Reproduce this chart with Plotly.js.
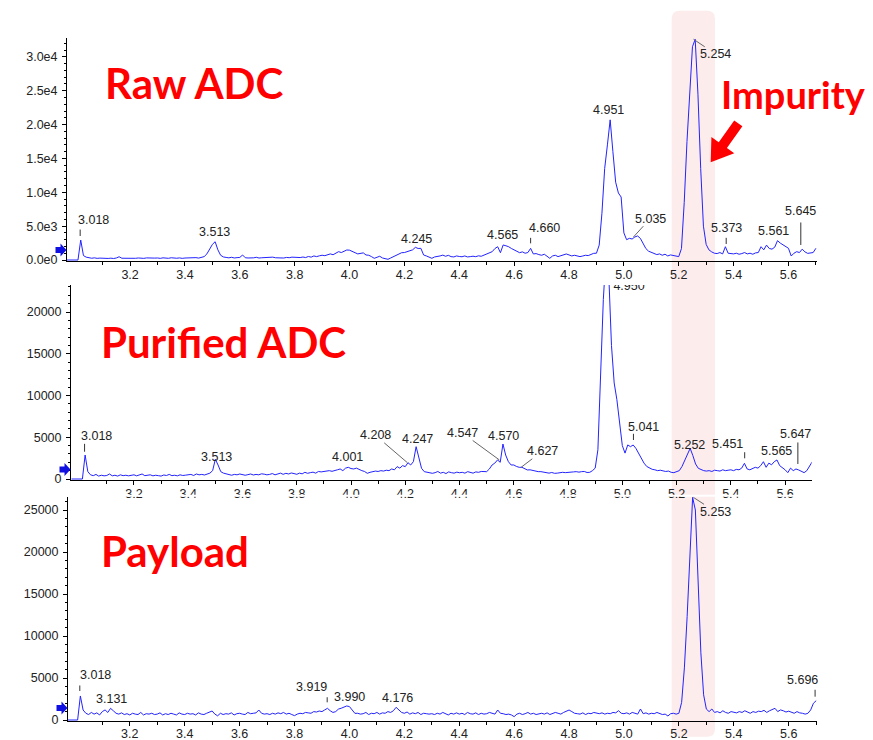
<!DOCTYPE html>
<html>
<head>
<meta charset="utf-8">
<script src="https://cdn.plot.ly/plotly-3.0.1.min.js"></script>
<style>html,body{margin:0;padding:0;background:#fff;}</style>
</head>
<body>
<div id="chart" style="width:873px;height:740px;"></div>
<script>
// ---------------- DATA ----------------
// retention time sampling (minutes)
const startTime = 2.97;
const timeStep = 0.01;

// Raw ADC trace (counts), 2.97 .. 5.70 min
const rawADC = [
  0,0,0,
  0,0,2950,650,420,300,260,320,240,280,
  250,300,230,270,220,300,480,260,240,300,
  230,280,250,300,260,240,310,270,230,280,
  300,240,320,260,250,330,280,260,310,240,
  290,330,260,300,350,280,420,500,900,1600,
  2300,2700,1500,700,450,380,320,400,300,350,
  380,740,330,300,260,320,400,290,330,360,
  300,380,420,330,300,350,290,380,340,420,
  380,300,360,440,360,520,420,600,500,620,
  700,640,800,900,780,1000,1230,1100,1300,1480,
  1450,1200,1080,900,950,1050,740,700,500,250,
  400,550,300,180,100,300,500,700,900,1080,
  1100,1250,1380,1500,1870,1700,1720,740,600,400,
  250,450,500,600,720,550,690,500,450,600,
  520,480,600,450,500,560,490,620,550,700,
  820,1000,1230,1700,1960,1080,2220,2100,1960,1700,
  1480,1300,1080,1200,1000,1100,1720,890,950,800,
  700,850,500,250,600,700,500,650,800,890,
  750,600,700,650,500,590,700,650,820,985,
  1000,2200,6900,13500,17000,20700,16000,11500,9900,9300,
  4000,3000,3200,3100,3400,3550,3200,2500,1700,1300,
  1100,1000,800,900,700,850,600,750,700,600,
  500,1700,8500,17500,25500,31500,32600,24500,13500,5000,
  2300,1500,1200,1000,950,1100,900,1960,1000,900,
  900,1000,850,950,1100,900,1000,850,1050,1100,
  1960,1500,2200,1700,1600,1900,2860,2500,2200,2000,
  1730,590,1000,1230,1100,1600,1200,980,1000,1100,
  1730
];

// Purified ADC trace (counts), 2.97 .. 5.70 min
const purifiedADC = [
  0,0,0,
  0,0,2870,880,500,400,550,350,450,380,
  420,600,380,450,350,500,400,450,380,420,
  500,380,450,600,400,420,500,380,450,400,
  350,480,420,550,400,450,380,500,420,460,
  480,550,420,600,500,550,480,600,700,1000,
  2360,1680,880,700,600,500,450,550,500,600,
  500,450,520,600,480,550,500,620,580,500,
  550,650,500,600,700,560,680,600,720,650,
  560,700,620,800,680,760,820,700,900,850,
  880,950,1000,920,1050,1100,1200,1000,1300,1400,
  1250,1200,1300,1100,1000,900,680,800,880,950,
  900,1000,950,1050,1000,1200,1100,1480,1300,1600,
  1480,1950,1680,2080,3870,2680,1280,880,800,680,
  680,760,900,700,800,650,850,760,700,820,
  750,800,700,880,760,700,850,800,900,880,
  880,1200,1680,1900,2280,2000,4190,2870,2080,1680,
  1680,1500,1400,1400,1200,1080,1100,1000,950,880,
  880,800,750,700,780,680,700,760,800,760,
  760,800,850,880,820,880,900,780,800,1000,
  1300,3500,12000,21500,27000,24500,16000,11500,9500,6800,
  4000,3100,4080,3870,4070,3670,3080,2500,1900,1500,
  1300,1160,1100,1000,1050,1000,900,950,800,760,
  900,1000,1500,2280,3000,3670,2800,1800,1280,1100,
  1000,950,1000,900,1050,1000,950,1100,1000,1050,
  1100,1000,1150,1100,1300,1880,1200,1100,1250,1400,
  1300,1600,2070,1400,1900,1700,2070,2280,1600,1400,
  1100,760,1300,1000,1200,1080,900,760,1000,1500,
  2070
];

// Payload trace (counts), 2.97 .. 5.70 min
const payload = [
  0,0,0,
  0,0,2860,1190,800,650,900,700,850,600,
  1000,1200,900,1390,1100,800,700,850,650,750,
  600,800,700,650,900,600,750,700,800,650,
  700,850,600,750,650,800,700,600,850,700,
  650,800,700,750,600,850,700,650,800,900,
  1070,700,500,800,650,750,700,850,600,750,
  800,700,650,900,750,800,850,1190,800,700,
  750,650,800,700,850,750,900,700,800,650,
  520,700,800,750,900,850,800,1000,950,1070,
  1000,1200,1390,1100,900,1000,1300,1400,1500,1670,
  1600,1200,790,800,700,750,900,650,800,750,
  900,700,850,800,1000,900,1100,1510,1200,900,
  800,950,700,850,750,900,650,800,750,700,
  750,650,800,700,900,750,600,800,700,850,
  700,800,650,900,750,700,850,650,800,700,
  750,900,800,700,1190,800,750,650,700,600,
  400,700,800,650,750,900,700,800,650,750,
  800,700,850,650,750,900,800,700,900,1000,
  1190,1000,800,750,700,850,650,800,750,900,
  800,750,850,700,800,750,900,850,1110,800,
  750,850,700,900,800,700,1310,750,850,700,
  800,750,900,800,650,700,480,750,800,700,
  800,2100,6200,12300,19400,26500,25000,17000,8000,3000,
  1300,1000,1310,900,1000,850,1100,900,800,1000,
  950,850,1000,900,1100,950,800,1000,900,1050,
  1000,1150,900,1100,1200,1390,1000,1200,1100,950,
  1050,900,800,1000,850,800,700,800,1200,1990,
  2300
];

// labelled peaks (retention times, min)
const rawPeaks = [3.018, 3.513, 4.245, 4.565, 4.660, 4.951, 5.035, 5.254, 5.373, 5.561, 5.645];
const purifiedPeaks = [3.018, 3.513, 4.001, 4.208, 4.247, 4.547, 4.570, 4.627, 5.041, 5.252, 5.451, 5.565, 5.647];
const purifiedOffscalePeak = [4.950];
const payloadPeaks = [3.018, 3.131, 3.919, 3.990, 4.176, 5.253, 5.696];

// axis ticks
const xTicks = [3.2, 3.4, 3.6, 3.8, 4.0, 4.2, 4.4, 4.6, 4.8, 5.0, 5.2, 5.4, 5.6];
const rawYTicks = [0, 5000, 10000, 15000, 20000, 25000, 30000];
const rawYTickText = ['0.0e0', '5.0e3', '1.0e4', '1.5e4', '2.0e4', '2.5e4', '3.0e4'];
const purifiedYTicks = [0, 5000, 10000, 15000, 20000];
const payloadYTicks = [0, 5000, 10000, 15000, 20000, 25000];

const panelTitles = ['Raw ADC', 'Purified ADC', 'Payload'];
const calloutText = ['Impurity'];

// ---------------- STYLE / LAYOUT ----------------
const W = 873, H = 740;
const px2x = px => px / W;
const py2y = py => 1 - py / H;

// label placement per peak: [dx, dy(up), kind, standoff, length]
const rawLabelStyle = [
  [13.7, 20, 'tick', 4, 7], [-1, 9.7, 'none'], [0, 8.6, 'none'], [-1.6, 10, 'none'],
  [13.8, 20, 'tick', 5, 6], [-1.5, 9.5, 'none'], [16.7, 18.3, 'leader'], [22.4, -15, 'leader'],
  [0, 18.4, 'tick', 2.7, 6.7], [-3.8, 9.4, 'none'], [-0.8, 38.4, 'tick', 4.2, 23]
];
const purifiedLabelStyle = [
  [11.7, 18.8, 'tick', 3.3, 8.4], [-2.2, 8, 'none'], [-3.3, 10, 'none'], [-32, 27.4, 'leader'],
  [-1, 8, 'none'], [-37, 27, 'leader'], [-2, 7.8, 'none'], [21, 16, 'leader'],
  [10.4, 18.3, 'tick', 5, 6.7], [-1, 3, 'none'], [-17.4, 19.5, 'tick', 5, 6.6],
  [0.8, 8.7, 'none'], [-2.2, 35, 'tick', 5, 22]
];
const payloadLabelStyle = [
  [15.2, 21, 'tick', 5, 6], [0.2, 9.5, 'none'], [-15.9, 21.6, 'tick', 6, 5.6],
  [3.1, 9.3, 'none'], [0, 9.8, 'none'], [22.1, -14.4, 'leader'], [-12.6, 20.7, 'tick', 4, 7.4]
];

const panelGeom = [
  {xl: 67, xr: 817, yt: 38, yb: 261, xrange: [2.97, 5.704], yrange: [-148, 32790], xstand: -2},
  {xl: 71, xr: 811.7, yt: 285, yb: 480, xrange: [2.968, 5.698], yrange: [-120, 23234], xstand: -2},
  {xl: 68, xr: 817, yt: 497, yb: 721, xrange: [2.975, 5.703], yrange: [-119, 26548], xstand: -3}
];

const series = [rawADC, purifiedADC, payload];
const peakSets = [rawPeaks, purifiedPeaks, payloadPeaks];
const labelStyles = [rawLabelStyle, purifiedLabelStyle, payloadLabelStyle];
const yTickSets = [[rawYTicks, rawYTickText], [purifiedYTicks, purifiedYTicks.map(String)], [payloadYTicks, payloadYTicks.map(String)]];

const traceBlue = 'rgb(35,35,255)';
const labelFont = {family: 'Liberation Sans, Arial, sans-serif', size: 12.5, color: '#222'};
const tickFont = {family: 'Liberation Sans, Arial, sans-serif', size: 12.5, color: '#222'};

function peakValue(values, t) {
  let best = -Infinity;
  values.forEach((v, i) => {
    const ti = startTime + i * timeStep;
    if (Math.abs(ti - t) <= 0.0125) best = Math.max(best, v);
  });
  return best;
}

const traces = [];
const annotations = [];
const shapes = [];
const layout = {
  width: W, height: H,
  margin: {l: 0, r: 0, t: 0, b: 0},
  paper_bgcolor: '#ffffff',
  plot_bgcolor: 'rgba(0,0,0,0)',
  showlegend: false,
  font: tickFont
};

series.forEach((values, k) => {
  const g = panelGeom[k];
  const xa = k === 0 ? 'x' : 'x' + (k + 1);
  const ya = k === 0 ? 'y' : 'y' + (k + 1);
  const xaKey = k === 0 ? 'xaxis' : 'xaxis' + (k + 1);
  const yaKey = k === 0 ? 'yaxis' : 'yaxis' + (k + 1);

  traces.push({
    type: 'scatter', mode: 'lines', x0: startTime, dx: timeStep, y: values,
    xaxis: xa, yaxis: ya, line: {color: traceBlue, width: 1}, hoverinfo: 'x+y'
  });

  layout[xaKey] = {
    domain: [px2x(g.xl), px2x(g.xr)], range: g.xrange, anchor: ya,
    tickmode: 'array', tickvals: xTicks, ticktext: xTicks.map(v => v.toFixed(1)),
    ticks: 'outside', ticklen: 4, tickcolor: '#000', tickwidth: 1,
    minor: {tickmode: 'linear', tick0: 3.1, dtick: 0.2, ticks: 'outside', ticklen: 3, tickcolor: '#000'},
    showline: true, linecolor: '#000', linewidth: 1, showgrid: false, zeroline: false,
    tickfont: tickFont, ticklabelstandoff: g.xstand, fixedrange: true
  };
  layout[yaKey] = {
    domain: [py2y(g.yb), py2y(g.yt)], range: g.yrange, anchor: xa,
    tickmode: 'array', tickvals: yTickSets[k][0], ticktext: yTickSets[k][1],
    ticks: 'outside', ticklen: 4, tickcolor: '#000', tickwidth: 1,
    minor: {tickmode: 'linear', tick0: 0, dtick: 1000, ticks: 'outside', ticklen: 2, tickcolor: '#000'},
    showline: true, linecolor: '#000', linewidth: 1, showgrid: false, zeroline: false,
    tickfont: tickFont, ticklabelstandoff: 2, fixedrange: true
  };

  // peak labels
  peakSets[k].forEach((t, j) => {
    const st = labelStyles[k][j];
    const v = peakValue(values, t);
    const text = t.toFixed(3);
    if (st[2] === 'leader') {
      annotations.push({
        x: t, y: v, xref: xa, yref: ya, text: text, font: labelFont,
        showarrow: true, ax: st[0], ay: -st[1], arrowhead: 0, arrowwidth: 1,
        arrowcolor: '#666', standoff: 0, borderpad: 0
      });
    } else {
      annotations.push({
        x: t, y: v, xref: xa, yref: ya, text: text, font: labelFont,
        showarrow: false, xshift: st[0], yshift: st[1], xanchor: 'center', yanchor: 'middle'
      });
      if (st[2] === 'tick') {
        annotations.push({
          x: t, y: v, xref: xa, yref: ya, text: '', showarrow: true,
          ax: 0, ay: -(st[3] + st[4]), standoff: st[3], arrowhead: 0, arrowwidth: 1,
          arrowcolor: '#333', borderpad: 0
        });
      }
    }
  });

  // baseline marker arrow (blue) at left of y axis
  const my = [250, 469.5, 708][k];
  const mx = g.xl - 11.5;
  const pts = [[mx, my - 3], [mx + 5, my - 3], [mx + 5, my - 6.5], [mx + 11, my], [mx + 5, my + 6.5], [mx + 5, my + 3], [mx, my + 3]];
  shapes.push({
    type: 'path', xref: 'paper', yref: 'paper', layer: 'above',
    path: 'M' + pts.map(p => px2x(p[0]) + ',' + py2y(p[1])).join(' L') + ' Z',
    fillcolor: '#1010e0', line: {width: 0}
  });
});

// off-scale peak label of the purified trace, clipped by the plot area top
const g2 = panelGeom[1];
const yScale2 = (g2.yb - g2.yt) / (g2.yrange[1] - g2.yrange[0]);
const xScale2 = (g2.xr - g2.xl) / (g2.xrange[1] - g2.xrange[0]);
traces.push({
  type: 'scatter', mode: 'text', x: purifiedOffscalePeak.map(t => t + 20.3 / xScale2),
  y: purifiedOffscalePeak.map(() => g2.yrange[1] - 1.5 / yScale2),
  text: purifiedOffscalePeak.map(t => t.toFixed(3)), textposition: 'middle center',
  textfont: labelFont, xaxis: 'x2', yaxis: 'y2', cliponaxis: true, hoverinfo: 'skip'
});

// pink highlight band (rounded)
(function () {
  const x0 = 671.7, x1 = 715, y0 = 10.7, y1 = 736.7, r = 8;
  const P = (x, y) => px2x(x) + ',' + py2y(y);
  const path = 'M' + P(x0 + r, y0) + ' L' + P(x1 - r, y0) + ' Q' + P(x1, y0) + ' ' + P(x1, y0 + r) +
    ' L' + P(x1, y1 - r) + ' Q' + P(x1, y1) + ' ' + P(x1 - r, y1) +
    ' L' + P(x0 + r, y1) + ' Q' + P(x0, y1) + ' ' + P(x0, y1 - r) +
    ' L' + P(x0, y0 + r) + ' Q' + P(x0, y0) + ' ' + P(x0 + r, y0) + ' Z';
  shapes.push({type: 'path', xref: 'paper', yref: 'paper', layer: 'below', path: path,
    fillcolor: 'rgb(253,236,236)', line: {width: 0}});
})();

// white mask cutting the purified panel's x tick labels
shapes.push({type: 'rect', xref: 'paper', yref: 'paper', layer: 'above',
  x0: px2x(95), x1: px2x(830), y0: py2y(496.8), y1: py2y(494.8),
  fillcolor: '#ffffff', line: {width: 0}});

// red impurity arrow
(function () {
  const tail = [738.3, 123.3], tip = [710.7, 162.3];
  const dx = tip[0] - tail[0], dy = tip[1] - tail[1];
  const L = Math.hypot(dx, dy);
  const u = [dx / L, dy / L], n = [-u[1], u[0]];
  const sh = 5, hh = 14, hl = 21;
  const base = [tip[0] - u[0] * hl, tip[1] - u[1] * hl];
  const pts = [
    [tail[0] + n[0] * sh, tail[1] + n[1] * sh],
    [base[0] + n[0] * sh, base[1] + n[1] * sh],
    [base[0] + n[0] * hh, base[1] + n[1] * hh],
    tip,
    [base[0] - n[0] * hh, base[1] - n[1] * hh],
    [base[0] - n[0] * sh, base[1] - n[1] * sh],
    [tail[0] - n[0] * sh, tail[1] - n[1] * sh]
  ];
  shapes.push({type: 'path', xref: 'paper', yref: 'paper', layer: 'above',
    path: 'M' + pts.map(p => px2x(p[0]) + ',' + py2y(p[1])).join(' L') + ' Z',
    fillcolor: '#ff0000', line: {width: 0}});
})();

// red panel titles and callout
const redFont = {family: 'Lato, Open Sans, sans-serif', size: 42, color: '#ff0000'};
const titlePos = [[103, 83.3], [99, 341.7], [99, 550.8]];
panelTitles.forEach((t, i) => {
  annotations.push({xref: 'paper', yref: 'paper', x: px2x(titlePos[i][0]), y: py2y(titlePos[i][1]),
    xanchor: 'left', yanchor: 'middle', text: '<b>' + t + '</b>', showarrow: false, font: redFont});
});
annotations.push({xref: 'paper', yref: 'paper', x: px2x(719), y: py2y(94.2),
  xanchor: 'left', yanchor: 'middle', text: '<b>' + calloutText[0] + '</b>', showarrow: false,
  font: Object.assign({}, redFont, {size: 38})});

layout.annotations = annotations;
layout.shapes = shapes;

Plotly.newPlot('chart', traces, layout, {staticPlot: true, displayModeBar: false});
</script>
</body>
</html>
